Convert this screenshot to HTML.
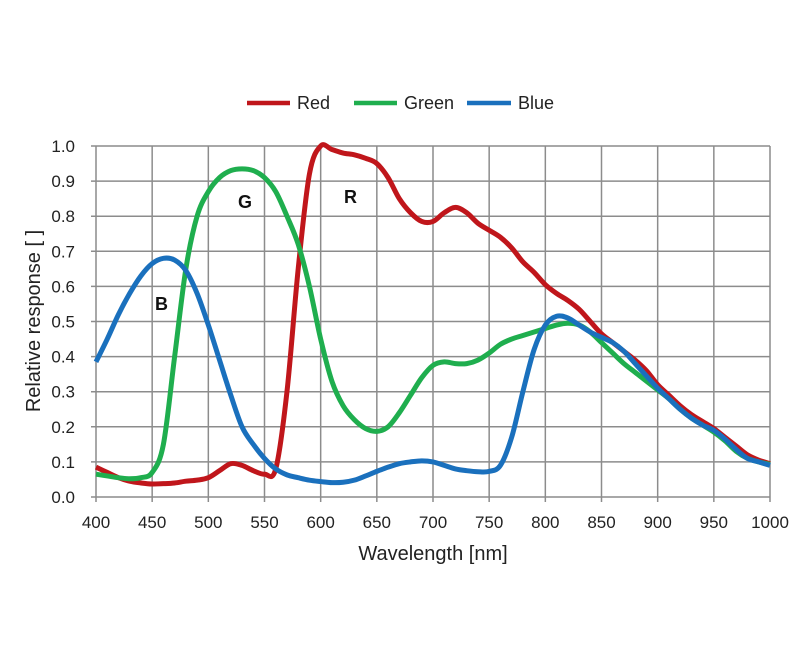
<!DOCTYPE html>
<html><head><meta charset="utf-8"><style>
html,body{margin:0;padding:0;background:#fff;}
svg{display:block;font-family:"Liberation Sans",Arial,sans-serif;}
</style></head><body>
<svg id="chart" width="800" height="667" viewBox="0 0 800 667">
<g id="grid"></g>
<g id="series"></g>
<g id="labels"></g>
<text x="238" y="208" font-size="18" font-weight="bold" fill="#111">G</text>
<text x="344" y="203" font-size="18" font-weight="bold" fill="#111">R</text>
<text x="155" y="310" font-size="18" font-weight="bold" fill="#111">B</text>
<text x="433" y="560" font-size="20" text-anchor="middle" fill="#222">Wavelength [nm]</text>
<text transform="translate(40,321) rotate(-90)" font-size="20" text-anchor="middle" fill="#222">Relative response [ ]</text>
<g>
<line x1="247" y1="103" x2="290" y2="103" stroke="#c0161b" stroke-width="4.5"/>
<text x="297" y="109" font-size="18" fill="#222">Red</text>
<line x1="354" y1="103" x2="397" y2="103" stroke="#1fae4e" stroke-width="4.5"/>
<text x="404" y="109" font-size="18" fill="#222">Green</text>
<line x1="467" y1="103" x2="511" y2="103" stroke="#1a70bd" stroke-width="4.5"/>
<text x="518" y="109" font-size="18" fill="#222">Blue</text>
</g>
</svg>
<script>
const wavelengths=[400,410,420,430,440,450,460,470,480,490,500,510,520,530,540,550,560,570,580,590,600,610,620,630,640,650,660,670,680,690,700,710,720,730,740,750,760,770,780,790,800,810,820,830,840,850,860,870,880,890,900,910,920,930,940,950,960,970,980,990,1000];
const redValues=[.085,.07,.055,.045,.04,.037,.038,.04,.045,.048,.055,.075,.095,.09,.075,.065,.08,.3,.65,.92,1.0,.99,.98,.975,.965,.95,.91,.85,.81,.785,.785,.81,.825,.81,.78,.76,.74,.71,.67,.64,.605,.58,.56,.535,.5,.465,.44,.415,.39,.36,.32,.29,.26,.235,.215,.195,.17,.145,.12,.105,.095];
const greenValues=[.065,.06,.055,.052,.055,.07,.15,.4,.65,.8,.87,.91,.93,.935,.93,.91,.87,.8,.72,.6,.45,.33,.26,.22,.195,.187,.2,.24,.29,.34,.375,.385,.38,.38,.39,.41,.435,.45,.46,.47,.48,.49,.495,.49,.47,.44,.41,.38,.355,.33,.305,.28,.25,.225,.205,.185,.16,.13,.11,.1,.093];
const blueValues=[.385,.45,.52,.58,.63,.665,.68,.675,.645,.58,.49,.39,.29,.2,.15,.11,.08,.063,.055,.048,.044,.041,.042,.048,.06,.073,.085,.095,.1,.103,.1,.09,.08,.075,.072,.073,.09,.17,.3,.42,.49,.515,.51,.49,.47,.455,.44,.415,.38,.345,.31,.28,.25,.225,.205,.19,.165,.135,.11,.1,.09];
const xTicks=[400,450,500,550,600,650,700,750,800,850,900,950,1000];
const yTicks=[0,0.1,0.2,0.3,0.4,0.5,0.6,0.7,0.8,0.9,1.0];
const NS="http://www.w3.org/2000/svg";
const X0=96,X1=770,Y0=497,Y1=146;
function xs(v){return X0+(v-400)/600*(X1-X0);}
function ys(v){return Y0-v*(Y0-Y1);}
function mk(t,a,p){const e=document.createElementNS(NS,t);for(const k in a)e.setAttribute(k,a[k]);p.appendChild(e);return e;}
const grid=document.getElementById('grid'),labels=document.getElementById('labels'),series=document.getElementById('series');
xTicks.forEach(v=>{
 const l=mk('line',{x1:xs(v),x2:xs(v),y1:Y1,y2:Y0+5,stroke:'#8c8c8c','stroke-width':1.5},grid);
 
 
 const t=mk('text',{x:xs(v),y:528,'font-size':17,'text-anchor':'middle',fill:'#222'},labels);
 t.textContent=v;
 
 
});
yTicks.forEach(v=>{
 const l=mk('line',{x1:X0-5,x2:X1,y1:ys(v),y2:ys(v),stroke:'#8c8c8c','stroke-width':1.5},grid);
 
 
 const t=mk('text',{x:75,y:ys(v)+6,'font-size':17,'text-anchor':'end',fill:'#222'},labels);
 t.textContent=v.toFixed(1);
 
 
});
function path(vals){
 const p=wavelengths.map((w,i)=>[xs(w),ys(vals[i])]);
 let d='M'+p[0][0]+','+p[0][1];
 for(let i=0;i<p.length-1;i++){
  const a=p[i-1]||p[i],b=p[i],c=p[i+1],e=p[i+2]||c;
  d+=' C'+(b[0]+(c[0]-a[0])/6)+','+(b[1]+(c[1]-a[1])/6)+' '+(c[0]-(e[0]-b[0])/6)+','+(c[1]-(e[1]-b[1])/6)+' '+c[0]+','+c[1];
 }
 return d;
}
const r=mk('path',{d:path(redValues),fill:'none',stroke:'#c0161b','stroke-width':5,'stroke-linejoin':'round'},series);


const g=mk('path',{d:path(greenValues),fill:'none',stroke:'#1fae4e','stroke-width':5,'stroke-linejoin':'round'},series);


const b=mk('path',{d:path(blueValues),fill:'none',stroke:'#1a70bd','stroke-width':5,'stroke-linejoin':'round'},series);


</script>
</body></html>
